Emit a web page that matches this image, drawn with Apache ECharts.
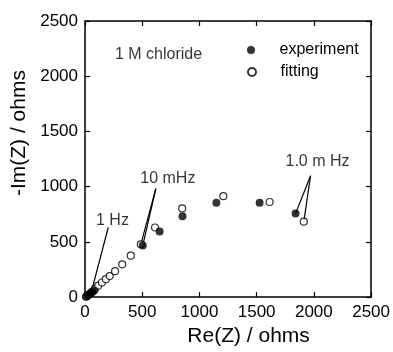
<!DOCTYPE html>
<html>
<head>
<meta charset="utf-8">
<script src="https://cdn.jsdelivr.net/npm/echarts@6/dist/echarts.min.js"></script>
<style>
  html, body { margin: 0; padding: 0; background: #fff; }
  #chart { width: 393px; height: 352px; }
</style>
</head>
<body>
<div id="chart"></div>
<script>
// impedance data (ohms)
const expRe = [12, 28, 45, 62, 80, 505, 652, 852, 1148, 1526, 1840]
const expIm = [6, 16, 30, 45, 60, 468, 595, 732, 855, 855, 756]
const fitRe = [9, 32, 58, 86, 115, 148, 182, 216, 263, 325, 400, 488, 612, 849, 1209, 1613, 1912]
const fitIm = [3, 22, 46, 74, 103, 132, 162, 190, 235, 297, 375, 478, 630, 803, 914, 861, 683]

const xTicks = [0, 500, 1000, 1500, 2000, 2500]
const yTicks = [0, 500, 1000, 1500, 2000, 2500]

// annotation labels [re, im, text]
const labels = [
  [240, 694, '1 Hz'],
  [724, 1070, '10 mHz'],
  [2032, 1231, '1.0 m Hz'],
]
const noteText = [262, 2198, '1 M chloride']
// leader lines: from label to point
const leaders = [
  [[203, 630], [55, 45]],
  [[619, 982], [505, 468]],
  [[619, 982], [488, 478]],
  [[1971, 1099], [1840, 756]],
  [[1971, 1099], [1912, 683]],
]

const font = '"Liberation Sans", Arial, sans-serif'
const chart = echarts.init(document.getElementById('chart'))

const axisCommon = {
  type: 'value',
  min: xTicks[0],
  max: xTicks[xTicks.length - 1],
  interval: 500,
  splitLine: { show: false },
  axisLine: { show: true, onZero: false, lineStyle: { color: '#000', width: 1.5 } },
  axisTick: { show: true, inside: true, length: 5, lineStyle: { color: '#000', width: 1.2 } },
}

const tickLabel = { fontFamily: font, fontSize: 17, color: '#000', margin: 7, formatter: (v) => String(v) }

chart.setOption({
  animation: false,
  grid: { left: 85, right: 21, top: 21, bottom: 47 },
  legend: [
    {
      data: ['experiment'],
      left: 247, top: 42, padding: 0,
      itemWidth: 47, itemHeight: 8,
      textStyle: { fontFamily: font, fontSize: 16, color: '#000' },
    },
    {
      data: ['fitting'],
      left: 247, top: 64, padding: 0,
      itemWidth: 47, itemHeight: 8,
      textStyle: { fontFamily: font, fontSize: 16, color: '#000' },
    },
  ],
  xAxis: [
    {
      ...axisCommon,
      position: 'bottom',
      name: 'Re(Z) / ohms',
      nameLocation: 'middle',
      nameGap: 26,
      nameTextStyle: { fontFamily: font, fontSize: 21, color: '#000', padding: [0, 0, 0, 41] },
      axisLabel: tickLabel,
    },
    { ...axisCommon, position: 'top', axisLabel: { show: false } },
  ],
  yAxis: [
    {
      ...axisCommon,
      min: yTicks[0],
      max: yTicks[yTicks.length - 1],
      position: 'left',
      name: '-Im(Z) / ohms',
      nameLocation: 'middle',
      nameGap: 55,
      nameTextStyle: { fontFamily: font, fontSize: 21, color: '#000', padding: [0, 0, 0, 52] },
      axisLabel: tickLabel,
    },
    { ...axisCommon, min: yTicks[0], max: yTicks[yTicks.length - 1], position: 'right', axisLabel: { show: false } },
  ],
  series: [
    ...leaders.map((seg) => ({
      type: 'line',
      data: seg,
      symbol: 'none',
      silent: true,
      lineStyle: { color: '#000', width: 1.2 },
    })),
    {
      name: 'fitting',
      type: 'scatter',
      symbol: 'circle',
      symbolSize: 7,
      itemStyle: { color: '#fff', borderColor: '#000', borderWidth: 1.2 },
      data: fitRe.map((v, i) => [v, fitIm[i]]),
      z: 3,
    },
    {
      name: 'experiment',
      type: 'scatter',
      symbol: 'circle',
      symbolSize: 8,
      itemStyle: { color: '#000' },
      data: expRe.map((v, i) => [v, expIm[i]]),
      z: 4,
    },
    {
      type: 'scatter',
      symbolSize: 0,
      silent: true,
      data: labels.map((l) => ({ value: [l[0], l[1]], name: l[2] })),
      label: {
        show: true,
        position: 'inside',
        formatter: (p) => p.name,
        fontFamily: font,
        fontSize: 16,
        color: '#000',
      },
    },
    {
      type: 'scatter',
      symbolSize: 0,
      silent: true,
      data: [{ value: [noteText[0], noteText[1]], name: noteText[2] }],
      label: {
        show: true,
        position: 'right',
        distance: 0,
        formatter: (p) => p.name,
        fontFamily: font,
        fontSize: 16,
        color: '#000',
      },
    },
  ],
})
</script>
</body>
</html>
